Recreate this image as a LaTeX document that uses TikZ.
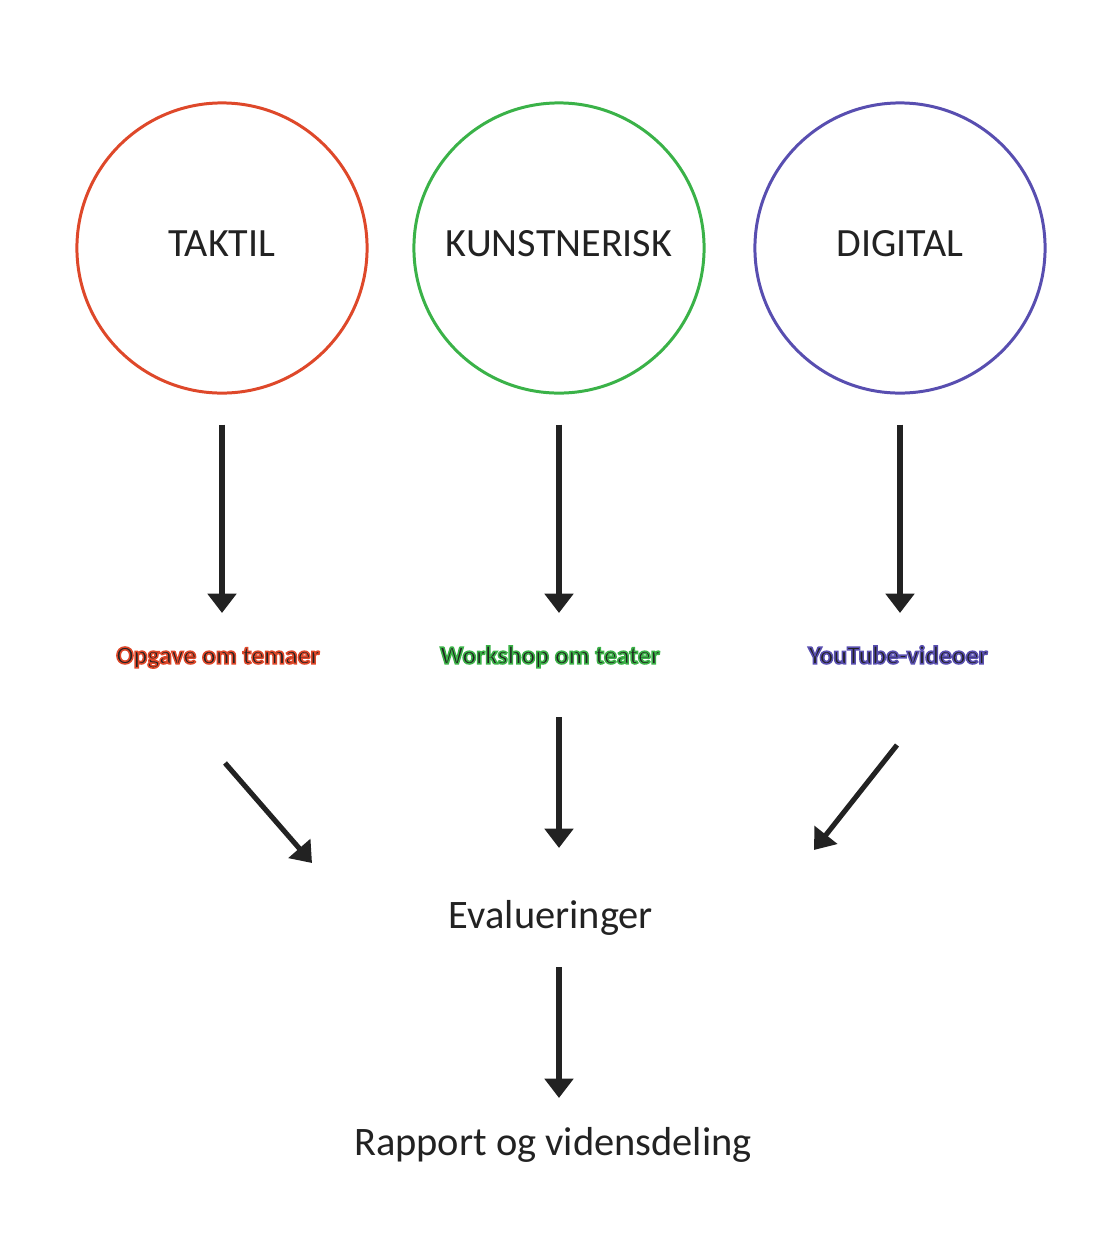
\documentclass[tikz,border=0pt]{standalone}
\usepackage{fontspec}
\setmainfont{Carlito}
\usetikzlibrary{positioning}
\usetikzlibrary{arrows.meta}

\definecolor{taktilred}{RGB}{222,72,42}
\definecolor{kunstgreen}{RGB}{58,178,72}
\definecolor{digitalblue}{RGB}{88,78,176}
\definecolor{tekst}{RGB}{34,34,34}

% mørk tekst med farvet kant
\newcommand{\kanttekst}[2]{{\color{tekst}\special{pdf:literal #1 RG}\addfontfeature{FakeBold=6}#2}}

\tikzset{
  felt/.style={draw, circle, line width=0.85pt, minimum size=2.9cm, text height=7.4pt, text depth=2.6pt, font=\fontsize{11.4}{14}\selectfont, text=tekst},
  aktivitet/.style={inner sep=0pt, text height=7pt, text depth=2pt, font=\fontsize{7.3}{9}\selectfont\bfseries},
  trin/.style={inner sep=0pt, text height=9pt, text depth=3pt, font=\fontsize{11.5}{14}\selectfont, text=tekst},
  pil/.style={line width=1.45pt, draw=tekst, -{Triangle[width=8pt,length=5.5pt]}}
}

\begin{document}
\begin{tikzpicture}[x=0.01cm, y=-0.01cm]
            \useasboundingbox (0,0) rectangle (1094,1242);

            % Felter
            \node[felt, draw=taktilred] (taktil) at (222,248) {TAKTIL};
            \node[felt, draw=kunstgreen] (kunst) at (559,248) {KUNSTNERISK};
            \node[felt, draw=digitalblue] (digital) at (900,248) {DIGITAL};

            % Aktiviteter
            \node[aktivitet] (opgave) at (218,655) {\kanttekst{0.87 0.28 0.16}{Opgave om temaer}};
            \node[aktivitet] (workshop) at (550,655) {\kanttekst{0.23 0.70 0.28}{Workshop om teater}};
            \node[aktivitet] (youtube) at (898,655) {\kanttekst{0.35 0.31 0.69}{YouTube-videoer}};

            % Evaluering og rapport
            \node[trin] (eval) at (551,918) {Evalueringer};
            \node[trin] (rapport) at (553,1145) {Rapport og vidensdeling};

            % Pile
            \draw[pil, shorten <=3mm, shorten >=4.2mm] (taktil) -- (taktil |- opgave);
            \draw[pil, shorten <=3mm, shorten >=4.2mm] (kunst) -- (kunst |- workshop);
            \draw[pil, shorten <=3mm, shorten >=4.2mm] (digital) -- (digital |- youtube);

            \coordinate (venstre) at (225,763);
            \coordinate (venstrepil) at (312,863);
            \coordinate (hoejre) at (897,745);
            \coordinate (hoejrepil) at (814,850);
            \draw[pil] (venstre) -- (venstrepil);
            \draw[pil] (hoejre) -- (hoejrepil);
            \draw[pil, shorten <=6.2mm, shorten >=7mm] (kunst |- workshop) -- (kunst |- eval);
            \draw[pil, shorten <=4.9mm, shorten >=4.7mm] (kunst |- eval) -- (kunst |- rapport);
          \end{tikzpicture}
\end{document}
